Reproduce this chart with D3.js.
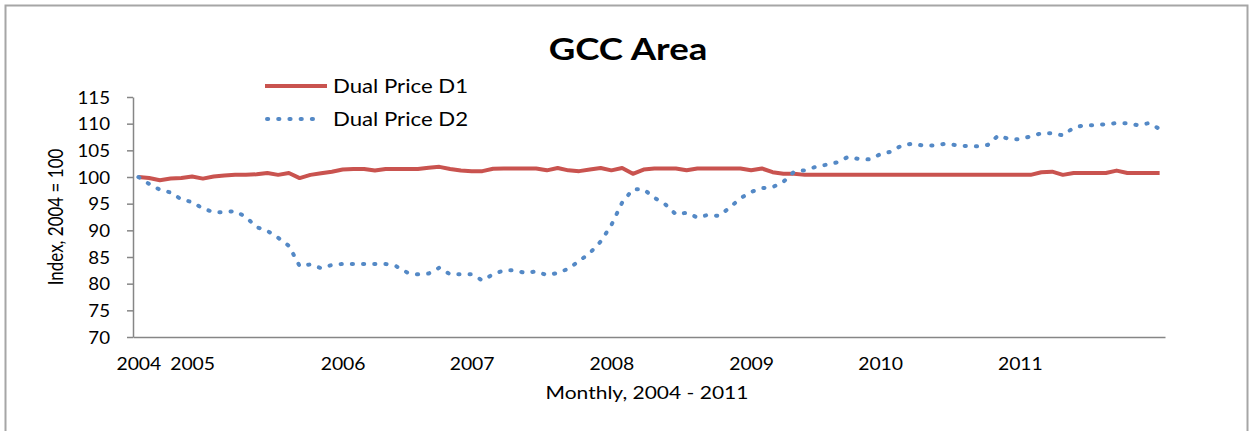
<!DOCTYPE html>
<html>
<head>
<style>
body { margin: 0; background: #fff; }
text { font-family: Lato, "Open Sans", sans-serif; fill: #000; }
</style>
<script src="https://d3js.org/d3.v7.min.js"></script>
</head>
<body>
<svg id="chart" width="1250" height="431"></svg>
<script>
// monthly index values, Jan 2004 .. Dec 2011
var d1 = [100, 99.8, 99.4, 99.7, 99.8, 100.1, 99.7, 100.1, 100.3, 100.4, 100.4, 100.5,
  100.75, 100.4, 100.75, 99.8, 100.4, 100.7, 101, 101.4, 101.5, 101.5, 101.2, 101.5,
  101.5, 101.5, 101.5, 101.75, 101.9, 101.5, 101.2, 101.1, 101.1, 101.55, 101.6, 101.6,
  101.6, 101.6, 101.25, 101.7, 101.25, 101.1, 101.4, 101.7, 101.25, 101.7, 100.6, 101.4,
  101.6, 101.6, 101.6, 101.25, 101.6, 101.6, 101.6, 101.6, 101.6, 101.25, 101.6, 100.9,
  100.6, 100.6, 100.4, 100.4, 100.4, 100.4, 100.4, 100.4, 100.4, 100.4, 100.4, 100.4,
  100.4, 100.4, 100.4, 100.4, 100.4, 100.4, 100.4, 100.4, 100.4, 100.4, 100.4, 100.4,
  100.9, 101.0, 100.4, 100.75, 100.75, 100.75, 100.75, 101.2, 100.75, 100.75, 100.75, 100.75];

var d2 = [100, 98.7, 97.6, 97.1, 95.8, 95.3, 94.1, 93.4, 93.4, 93.6, 92.5, 90.6,
  89.9, 88.6, 87.1, 83.3, 83.6, 82.9, 83.5, 83.7, 83.7, 83.7, 83.7, 83.7,
  83.25, 82.1, 81.75, 81.9, 83.0, 81.75, 81.75, 81.75, 80.6, 81.75, 82.5, 82.5,
  82.0, 82.3, 81.6, 82.0, 82.8, 84.25, 85.75, 87.9, 91.0, 95.2, 97.7, 97.7,
  96.1, 94.9, 93.0, 93.3, 92.4, 92.9, 92.7, 94.25, 96.0, 97.2, 97.9, 98.1,
  99.1, 101.0, 101.25, 101.9, 102.3, 102.75, 103.75, 103.4, 103.3, 104.25, 104.75, 105.9,
  106.25, 105.9, 105.9, 106.2, 106.0, 105.8, 105.75, 106.0, 107.8, 107.1, 107.1, 107.6,
  108.2, 108.2, 107.8, 109.25, 109.7, 109.7, 109.9, 110.1, 110.1, 109.7, 110.1, 109.0];

var seriesNames = ["Dual Price D1", "Dual Price D2"];
var yTicks = [70, 75, 80, 85, 90, 95, 100, 105, 110, 115];
var yearLabels = ["2004", "2005", "2006", "2007", "2008", "2009", "2010", "2011"];
var yearIdx = [0, 5, 19, 31, 44, 57, 69, 82];

var sx = 1.2; // text in the original is stretched sideways
var red = "#C9534F", blue = "#5489C6";

var svg = d3.select("#chart");

svg.append("rect")
  .attr("x", 5.5).attr("y", 5.5)
  .attr("width", 1242).attr("height", 440)
  .attr("fill", "none").attr("stroke", "#a6a6a6").attr("stroke-width", 2);

var x = d3.scaleLinear().domain([-0.5, d1.length - 0.5]).range([133, 1165]);
var y = d3.scaleLinear().domain([70, 115]).range([337, 97]);

// y axis
var yAxis = d3.axisLeft(y).tickValues(yTicks).tickSize(6).tickSizeOuter(0);
var gy = svg.append("g").attr("transform", "translate(133,0)").call(yAxis);
gy.select(".domain").attr("stroke", "#868686").attr("stroke-width", 1.5);
gy.selectAll(".tick line").attr("stroke", "#868686").attr("stroke-width", 1.5);
gy.selectAll(".tick text")
  .attr("x", 0).attr("dy", "0.36em")
  .attr("transform", "translate(-23,0) scale(1.1,1)")
  .style("font-size", "17px").style("font-family", "Lato");

// x axis
var xAxis = d3.axisBottom(x).tickValues(yearIdx)
  .tickFormat(function(d, i) { return yearLabels[i]; })
  .tickSize(0).tickSizeOuter(0);
var gx = svg.append("g").attr("transform", "translate(0,337)").call(xAxis);
gx.select(".domain").attr("stroke", "#868686").attr("stroke-width", 1.5);
gx.selectAll(".tick text")
  .attr("y", 0).attr("dy", 0)
  .attr("transform", "translate(0,33) scale(1.14,1)")
  .style("font-size", "17px").style("font-family", "Lato");

// lines
var line = d3.line()
  .x(function(d, i) { return x(i); })
  .y(function(d) { return y(d); });

svg.append("path").datum(d1)
  .attr("d", line)
  .attr("fill", "none").attr("stroke", red)
  .attr("stroke-width", 4).attr("stroke-linejoin", "round");

svg.append("path").datum(d2)
  .attr("d", line)
  .attr("fill", "none").attr("stroke", blue)
  .attr("stroke-width", 4).attr("stroke-linecap", "round")
  .attr("stroke-dasharray", "1.2 10");

// title
svg.append("text")
  .attr("transform", "translate(628,60) scale(" + sx + ",1)")
  .attr("text-anchor", "middle")
  .style("font-size", "30.5px").style("font-weight", "bold")
  .text("GCC Area");

// axis titles
svg.append("text")
  .attr("transform", "translate(647,399) scale(" + sx + ",1)")
  .attr("text-anchor", "middle")
  .style("font-size", "17.5px")
  .text("Monthly, 2004 - 2011");

svg.append("text")
  .attr("transform", "translate(63,217) rotate(-90) scale(1," + sx + ")")
  .attr("text-anchor", "middle")
  .style("font-size", "17px")
  .text("Index, 2004 = 100");

// legend
var legend = svg.append("g");
legend.append("line")
  .attr("x1", 265).attr("x2", 327).attr("y1", 86).attr("y2", 86)
  .attr("stroke", red).attr("stroke-width", 4);
legend.append("line")
  .attr("x1", 267).attr("x2", 322).attr("y1", 119).attr("y2", 119)
  .attr("stroke", blue).attr("stroke-width", 4)
  .attr("stroke-linecap", "round").attr("stroke-dasharray", "1.2 10");
legend.selectAll("text.leg")
  .data(seriesNames)
  .enter().append("text")
  .attr("class", "leg")
  .attr("transform", function(d, i) { return "translate(333," + (92.5 + i * 33) + ") scale(" + sx + ",1)"; })
  .style("font-size", "18.5px")
  .text(function(d) { return d; });
</script>
</body>
</html>
